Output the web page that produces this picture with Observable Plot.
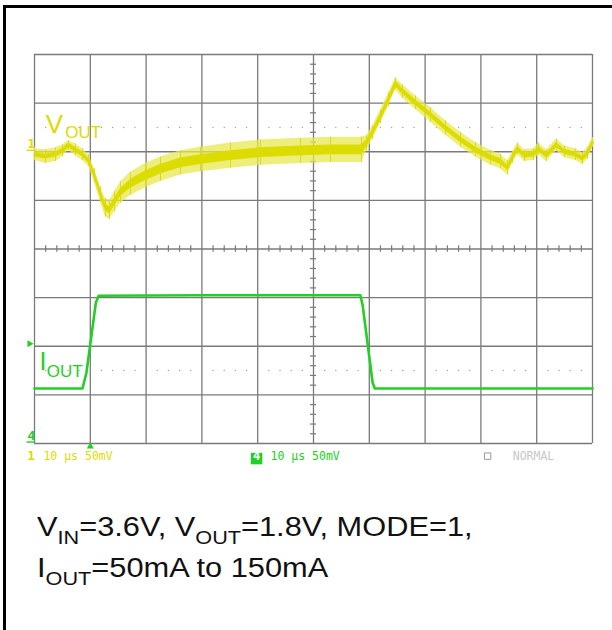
<!DOCTYPE html>
<html>
<head>
<meta charset="utf-8">
<script src="https://cdn.jsdelivr.net/npm/d3@7"></script>
<script src="https://cdn.jsdelivr.net/npm/@observablehq/plot@0.6"></script>
<style>
  html, body { margin: 0; padding: 0; background: #fff; }
  #wrap { position: relative; width: 612px; height: 630px; overflow: hidden; }
  #frame { position: absolute; left: 3px; top: 5px; width: 700px; height: 700px;
           border-top: 3px solid #000; border-left: 3px solid #000; z-index: 2; }
  #chart { position: absolute; left: 0; top: 0; }
  #caption { position: absolute; left: 37px; top: 508px; font-family: "Liberation Sans", Arial, sans-serif;
             font-size: 27px; line-height: 39px; color: #111; white-space: nowrap;
             transform: scaleX(1.14); transform-origin: 0 0; }
  #caption .s { font-size: 19px; position: relative; top: 8px; }
</style>
</head>
<body>
<div id="wrap">
  <div id="chart"></div>
  <div id="frame"></div>
  <div id="caption">
    <div>V<span class="s">IN</span>=3.6V, V<span class="s">OUT</span>=1.8V, MODE=1,</div>
    <div>I<span class="s">OUT</span>=50mA to 150mA</div>
  </div>
</div>
<script>
// ---- Data (time in µs, 10 µs/div; amplitude in divisions) ----
const vT     = [0, 1.97, 3.76, 5.02, 6.09, 7.35, 8.60, 9.68, 10.75, 11.83, 12.72, 13.44, 14.34, 15.41, 17.20, 19.89, 22.58, 26.16, 29.75, 35.13, 40.50, 47.67, 53.05, 58.60, 59.50, 60.57, 62.01, 63.44, 64.70, 65.95, 68.28, 70.97, 73.66, 76.34, 79.03, 81.72, 83.51, 84.77, 85.66, 86.56, 87.81, 89.43, 90.32, 91.76, 93.55, 94.98, 96.95, 98.21, 99.10, 100];
const vMid   = [1.94, 1.90, 1.94, 2.02, 2.13, 2.04, 1.94, 1.82, 1.51, 1.12, 0.85, 0.80, 0.97, 1.16, 1.34, 1.51, 1.64, 1.77, 1.84, 1.92, 1.98, 2.02, 2.04, 2.04, 2.17, 2.39, 2.72, 3.07, 3.40, 3.24, 3.01, 2.76, 2.49, 2.25, 2.04, 1.88, 1.80, 1.67, 1.88, 2.06, 1.92, 1.94, 2.06, 1.92, 2.14, 2.00, 1.94, 1.86, 1.96, 2.19];
const vOuter = [0.12, 0.14, 0.14, 0.12, 0.10, 0.12, 0.12, 0.12, 0.14, 0.16, 0.19, 0.19, 0.21, 0.22, 0.24, 0.25, 0.25, 0.25, 0.25, 0.26, 0.26, 0.26, 0.26, 0.26, 0.16, 0.14, 0.14, 0.14, 0.12, 0.14, 0.14, 0.15, 0.15, 0.15, 0.15, 0.15, 0.15, 0.15, 0.12, 0.12, 0.12, 0.12, 0.12, 0.12, 0.12, 0.12, 0.12, 0.12, 0.12, 0.10];
const vInner = [0.05, 0.05, 0.05, 0.05, 0.05, 0.05, 0.05, 0.05, 0.05, 0.06, 0.07, 0.07, 0.08, 0.08, 0.09, 0.10, 0.10, 0.10, 0.10, 0.10, 0.10, 0.10, 0.10, 0.10, 0.07, 0.06, 0.06, 0.06, 0.06, 0.06, 0.06, 0.06, 0.06, 0.06, 0.06, 0.06, 0.06, 0.05, 0.05, 0.05, 0.05, 0.05, 0.05, 0.05, 0.05, 0.05, 0.05, 0.05, 0.05, 0.05];

const iT   = [0, 8.6, 9.3, 10.3, 11.0, 11.5, 30, 58.4, 58.8, 60.6, 61.0, 80, 100];
const iVal = [-2.87, -2.87, -2.55, -1.70, -1.10, -0.96, -0.95, -0.95, -1.15, -2.75, -2.87, -2.87, -2.87];

const gridX = [0, 10, 20, 30, 40, 50, 60, 70, 80, 90, 100];
const gridY = [-4, -3, -2, -1, 0, 1, 2, 3, 4];
const minorX = [2,4,6,8,12,14,16,18,22,24,26,28,32,34,36,38,42,44,46,48,52,54,56,58,62,64,66,68,72,74,76,78,82,84,86,88,92,94,96,98];
const minorY = [-3.8,-3.6,-3.4,-3.2,-2.8,-2.6,-2.4,-2.2,-1.8,-1.6,-1.4,-1.2,-0.8,-0.6,-0.4,-0.2,0.2,0.4,0.6,0.8,1.2,1.4,1.6,1.8,2.2,2.4,2.6,2.8,3.2,3.4,3.6,3.8];
const dottedLevels = [2.5, -2.5];

const vout = vT.map((t, i) => ({t, mid: vMid[i], o: vOuter[i], n: vInner[i]}));
const iout = iT.map((t, i) => ({t, v: iVal[i]}));
const dots = dottedLevels.flatMap(y => minorX.map(x => ({x, y})));

const YEL = "#dcdc00", GRN = "#22d022";

const labels = [
  {text: "V",   t: 2.0,   v: 2.39,  color: YEL, size: 26, font: "Liberation Sans"},
  {text: "OUT", t: 5.5,   v: 2.29,  color: YEL, size: 17, font: "Liberation Sans"},
  {text: "I",   t: 0.9,   v: -2.48, color: GRN, size: 25, font: "Liberation Sans"},
  {text: "OUT", t: 2.2,   v: -2.63, color: GRN, size: 17, font: "Liberation Sans"},
  {text: "1",   t: -1.25, v: 2.08,  color: YEL, size: 13, font: "DejaVu Sans Mono", weight: "bold"},
  {text: "4",   t: -1.25, v: -3.92, color: GRN, size: 13, font: "DejaVu Sans Mono", weight: "bold"},
  {text: "1",   t: -1.3,  v: -4.34, color: YEL, size: 13, font: "DejaVu Sans Mono", weight: "bold"},
  {text: "10 µs 50mV", t: 1.6,  v: -4.34, color: YEL, size: 11.5, font: "DejaVu Sans Mono"},
  {text: "10 µs 50mV", t: 42.3, v: -4.34, color: GRN, size: 11.5, font: "DejaVu Sans Mono"},
  {text: "NORMAL", t: 85.7, v: -4.34, color: "#c8c8c8", size: 11.5, font: "DejaVu Sans Mono"}
];

const chart = Plot.plot({
  width: 612,
  height: 480,
  marginLeft: 34, marginRight: 20, marginTop: 54, marginBottom: 37,
  x: {domain: [0, 100], axis: null},
  y: {domain: [-4, 4], axis: null},
  style: {background: "transparent", overflow: "visible"},
  marks: [
    Plot.ruleX(gridX, {stroke: "#7a7a7a", strokeWidth: 1.3}),
    Plot.ruleY(gridY, {stroke: "#7a7a7a", strokeWidth: 1.3}),
    Plot.ruleX(minorX, {y1: -0.065, y2: 0.065, stroke: "#7a7a7a", strokeWidth: 1.2}),
    Plot.ruleY(minorY, {x1: 49.45, x2: 50.55, stroke: "#7a7a7a", strokeWidth: 1.2}),
    Plot.dot(dots, {x: "x", y: "y", r: 0.7, fill: "#a0a0a0", stroke: null}),
    // VOUT trace: ripple envelope + dense core
    Plot.areaY(vout, {x: "t", y1: d => d.mid - d.o, y2: d => d.mid + d.o, fill: "#e8e850", fillOpacity: 0.75}),
    Plot.ruleX(vout, {x: "t", y1: d => d.mid - d.o, y2: d => d.mid + d.o, stroke: "#dada20", strokeWidth: 1}),
    Plot.areaY(vout, {x: "t", y1: d => d.mid - d.n, y2: d => d.mid + d.n, fill: YEL}),
    Plot.line(vout, {x: "t", y: "mid", stroke: YEL, strokeWidth: 2.5}),
    // IOUT trace
    Plot.line(iout, {x: "t", y: "v", stroke: GRN, strokeWidth: 2.6}),
    // markers
    Plot.ruleY([2.03], {x1: -1.35, x2: 0.1, stroke: YEL, strokeWidth: 1.4}),
    Plot.ruleY([-3.97], {x1: -1.35, x2: 0.1, stroke: GRN, strokeWidth: 1.4}),
    Plot.dot([{x: -0.9, y: -1.95}], {x: "x", y: "y", symbol: "triangle", rotate: 90, r: 2.6, fill: GRN, stroke: null}),
    Plot.dot([{x: 10, y: -4.06}], {x: "x", y: "y", symbol: "triangle", r: 2.6, fill: GRN, stroke: null}),
    Plot.dot([{x: 39.8, y: -4.31}], {x: "x", y: "y", symbol: "square", r: 6.5, fill: GRN, stroke: null}),
    Plot.text(["4"], {x: 39.8, y: -4.34, text: d => d, fill: "#fff", fontSize: 12, fontWeight: "bold", fontFamily: "DejaVu Sans Mono", lineAnchor: "bottom"}),
    Plot.dot([{x: 81.2, y: -4.26}], {x: "x", y: "y", symbol: "square", r: 3.6, fill: "none", stroke: "#999", strokeWidth: 1}),
    ...labels.map(l => Plot.text([l], {
      x: "t", y: "v", text: "text", fill: l.color, fontSize: l.size,
      fontFamily: l.font, fontWeight: l.weight || "normal",
      textAnchor: "start", lineAnchor: "bottom"
    }))
  ]
});
document.getElementById("chart").appendChild(chart);
</script>
</body>
</html>
